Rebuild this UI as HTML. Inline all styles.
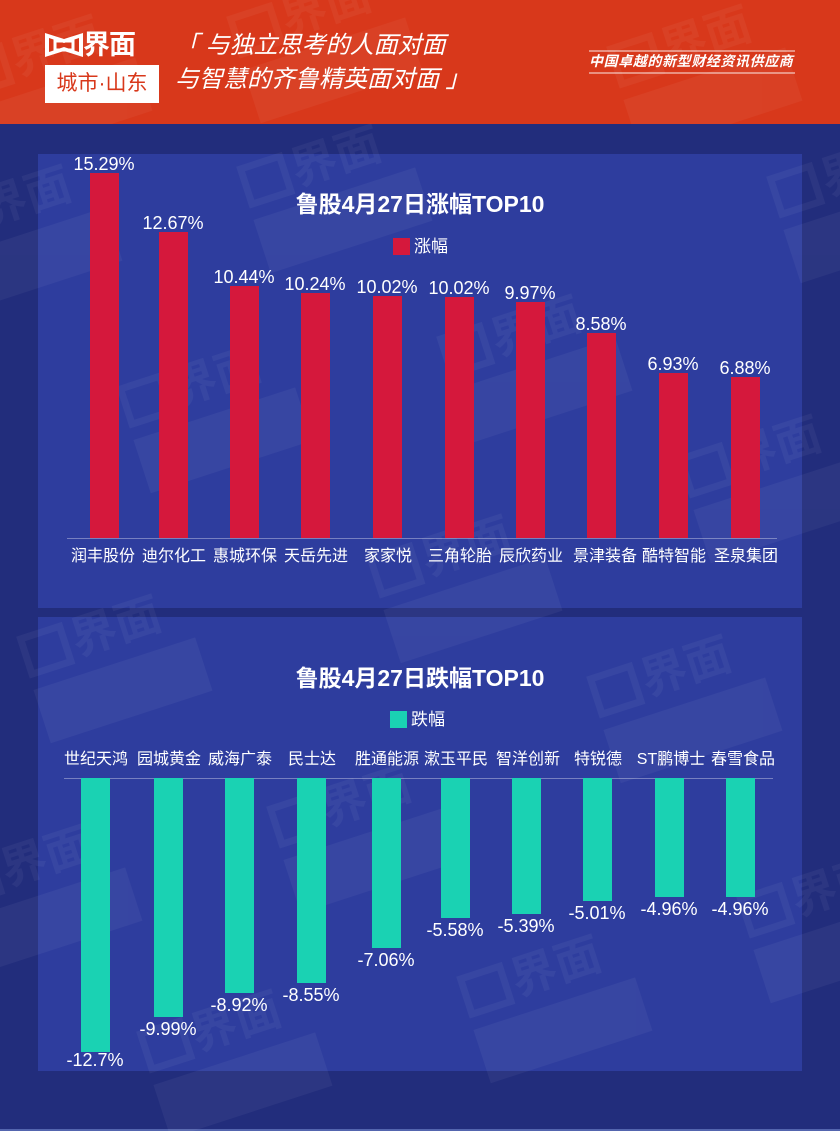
<!DOCTYPE html>
<html><head><meta charset="utf-8">
<style>
*{margin:0;padding:0;box-sizing:border-box}
html,body{width:840px;height:1131px;overflow:hidden}
body{background:#222d7c;font-family:"Liberation Sans","Noto Sans CJK SC",sans-serif;color:#fff}
#wrap{position:relative;width:840px;height:1131px;overflow:hidden;background:#222d7c}
.abs{position:absolute}
#hdr{left:0;top:0;width:840px;height:124px;background:#d8381b;overflow:hidden}
.panel{position:absolute;left:38px;width:764px;height:454px;background:#2e3d9e}
.wm{position:absolute;width:180px;height:130px;opacity:0.045;transform:rotate(-18deg);pointer-events:none}
.wm .t{position:absolute;left:52px;top:0;font-size:46px;font-weight:bold;color:#fff;line-height:54px}
.wm .b{position:absolute;left:0;top:62px;width:170px;height:56px;background:#fff}
.wm .ic{position:absolute;left:0;top:6px;width:48px;height:44px;border:7px solid #fff}
.bar{position:absolute;width:29px}
.r{background:#d5183c}
.g{background:#1ad2b3}
.val{position:absolute;width:90px;text-align:center;font-size:18px;line-height:20px;height:20px;white-space:nowrap}
.cat{position:absolute;width:80px;text-align:center;font-size:16px;line-height:20px;height:20px;white-space:nowrap}
.title{position:absolute;left:38px;width:764px;text-align:center;font-size:23px;font-weight:bold;line-height:28px}
.leg{position:absolute;font-size:17px;line-height:20px}
.leg i{display:inline-block;width:17px;height:17px;vertical-align:-3px;margin-right:4px}
</style></head><body><div id="wrap">

<div id="hdr" class="abs">
  <div class="wm" style="left:240px;top:-20px"><div class="ic"></div><div class="t">界面</div><div class="b"></div></div>
  <div class="wm" style="left:620px;top:10px"><div class="ic"></div><div class="t">界面</div><div class="b"></div></div>
  <div class="wm" style="left:-30px;top:20px"><div class="ic"></div><div class="t">界面</div><div class="b"></div></div>

  <svg class="abs" style="left:45px;top:33px" width="40" height="25" viewBox="0 0 40 25">
    <path d="M0 0 L19 6 L38 0 L38 24 L19 18 L0 24 Z" fill="#fff"/>
    <path d="M4 5 L19 10 L34 5 L34 19 L19 14 L4 19 Z" fill="#d8381b"/>
    <rect x="10" y="8" width="18" height="9" fill="none" stroke="#fff" stroke-width="3"/>
  </svg>
  <div class="abs" style="left:83px;top:29px;font-size:27px;font-weight:bold;line-height:32px;letter-spacing:-1px;white-space:nowrap">界面</div>
  <div class="abs" style="left:45px;top:65px;width:114px;height:38px;background:#fff;color:#d8381b;font-size:21px;line-height:38px;text-align:center;white-space:nowrap">城市·山东</div>

  <div class="abs" style="left:175px;top:30px;font-size:24px;line-height:32px;font-style:italic;white-space:nowrap">「 与独立思考的人面对面</div>
  <div class="abs" style="left:175px;top:64px;font-size:24px;line-height:32px;font-style:italic;white-space:nowrap">与智慧的齐鲁精英面对面 」</div>

  <div class="abs" style="left:589px;top:50px;width:206px;height:2px;background:rgba(255,255,255,0.45)"></div>
  <div class="abs" style="left:589px;top:52px;width:210px;font-size:14px;line-height:18px;font-weight:bold;font-style:italic;letter-spacing:0.6px;white-space:nowrap">中国卓越的新型财经资讯供应商</div>
  <div class="abs" style="left:589px;top:72px;width:206px;height:2px;background:rgba(255,255,255,0.45)"></div>
</div>

<div class="panel" style="top:154px"></div>
<div class="panel" style="top:617px"></div>
<div class="abs" style="left:0;top:1129px;width:840px;height:2px;background:#5465ae"></div>

<div class="wm" style="left:250px;top:130px"><div class="ic"></div><div class="t">界面</div><div class="b"></div></div>
<div class="wm" style="left:-60px;top:170px"><div class="ic"></div><div class="t">界面</div><div class="b"></div></div>
<div class="wm" style="left:450px;top:300px"><div class="ic"></div><div class="t">界面</div><div class="b"></div></div>
<div class="wm" style="left:130px;top:350px"><div class="ic"></div><div class="t">界面</div><div class="b"></div></div>
<div class="wm" style="left:690px;top:420px"><div class="ic"></div><div class="t">界面</div><div class="b"></div></div>
<div class="wm" style="left:780px;top:140px"><div class="ic"></div><div class="t">界面</div><div class="b"></div></div>
<div class="wm" style="left:380px;top:520px"><div class="ic"></div><div class="t">界面</div><div class="b"></div></div>
<div class="wm" style="left:30px;top:600px"><div class="ic"></div><div class="t">界面</div><div class="b"></div></div>
<div class="wm" style="left:600px;top:640px"><div class="ic"></div><div class="t">界面</div><div class="b"></div></div>
<div class="wm" style="left:280px;top:770px"><div class="ic"></div><div class="t">界面</div><div class="b"></div></div>
<div class="wm" style="left:-40px;top:830px"><div class="ic"></div><div class="t">界面</div><div class="b"></div></div>
<div class="wm" style="left:750px;top:860px"><div class="ic"></div><div class="t">界面</div><div class="b"></div></div>
<div class="wm" style="left:470px;top:940px"><div class="ic"></div><div class="t">界面</div><div class="b"></div></div>
<div class="wm" style="left:150px;top:995px"><div class="ic"></div><div class="t">界面</div><div class="b"></div></div>

<!-- TOP CHART -->
<div class="title" style="top:190px">鲁股4月27日涨幅TOP10</div>
<div class="leg" style="left:393px;top:237px"><i style="background:#d5183c"></i>涨幅</div>
<div class="abs" style="left:67px;top:538px;width:710px;height:1px;background:rgba(255,255,255,0.35)"></div>

<div class="bar r" style="left:90px;top:173px;height:365px"></div>
<div class="bar r" style="left:159px;top:232px;height:306px"></div>
<div class="bar r" style="left:230px;top:286px;height:252px"></div>
<div class="bar r" style="left:301px;top:293px;height:245px"></div>
<div class="bar r" style="left:373px;top:296px;height:242px"></div>
<div class="bar r" style="left:445px;top:297px;height:241px"></div>
<div class="bar r" style="left:516px;top:302px;height:236px"></div>
<div class="bar r" style="left:587px;top:333px;height:205px"></div>
<div class="bar r" style="left:659px;top:373px;height:165px"></div>
<div class="bar r" style="left:731px;top:377px;height:161px"></div>

<div class="val" style="left:59px;top:154px">15.29%</div>
<div class="val" style="left:128px;top:213px">12.67%</div>
<div class="val" style="left:199px;top:267px">10.44%</div>
<div class="val" style="left:270px;top:274px">10.24%</div>
<div class="val" style="left:342px;top:277px">10.02%</div>
<div class="val" style="left:414px;top:278px">10.02%</div>
<div class="val" style="left:485px;top:283px">9.97%</div>
<div class="val" style="left:556px;top:314px">8.58%</div>
<div class="val" style="left:628px;top:354px">6.93%</div>
<div class="val" style="left:700px;top:358px">6.88%</div>

<div class="cat" style="left:63px;top:547px">润丰股份</div>
<div class="cat" style="left:134px;top:547px">迪尔化工</div>
<div class="cat" style="left:205px;top:547px">惠城环保</div>
<div class="cat" style="left:276px;top:547px">天岳先进</div>
<div class="cat" style="left:348px;top:547px">家家悦</div>
<div class="cat" style="left:420px;top:547px">三角轮胎</div>
<div class="cat" style="left:491px;top:547px">辰欣药业</div>
<div class="cat" style="left:565px;top:547px">景津装备</div>
<div class="cat" style="left:634px;top:547px">酷特智能</div>
<div class="cat" style="left:706px;top:547px">圣泉集团</div>

<!-- BOTTOM CHART -->
<div class="title" style="top:664px">鲁股4月27日跌幅TOP10</div>
<div class="leg" style="left:390px;top:710px"><i style="background:#1ad2b3"></i>跌幅</div>
<div class="abs" style="left:64px;top:778px;width:709px;height:1px;background:rgba(255,255,255,0.35)"></div>

<div class="bar g" style="left:81px;top:778px;height:274px"></div>
<div class="bar g" style="left:154px;top:778px;height:239px"></div>
<div class="bar g" style="left:225px;top:778px;height:215px"></div>
<div class="bar g" style="left:297px;top:778px;height:205px"></div>
<div class="bar g" style="left:372px;top:778px;height:170px"></div>
<div class="bar g" style="left:441px;top:778px;height:140px"></div>
<div class="bar g" style="left:512px;top:778px;height:136px"></div>
<div class="bar g" style="left:583px;top:778px;height:123px"></div>
<div class="bar g" style="left:655px;top:778px;height:119px"></div>
<div class="bar g" style="left:726px;top:778px;height:119px"></div>

<div class="val" style="left:50px;top:1050px">-12.7%</div>
<div class="val" style="left:123px;top:1019px">-9.99%</div>
<div class="val" style="left:194px;top:995px">-8.92%</div>
<div class="val" style="left:266px;top:985px">-8.55%</div>
<div class="val" style="left:341px;top:950px">-7.06%</div>
<div class="val" style="left:410px;top:920px">-5.58%</div>
<div class="val" style="left:481px;top:916px">-5.39%</div>
<div class="val" style="left:552px;top:903px">-5.01%</div>
<div class="val" style="left:624px;top:899px">-4.96%</div>
<div class="val" style="left:695px;top:899px">-4.96%</div>

<div class="cat" style="left:56px;top:750px">世纪天鸿</div>
<div class="cat" style="left:129px;top:750px">园城黄金</div>
<div class="cat" style="left:200px;top:750px">威海广泰</div>
<div class="cat" style="left:272px;top:750px">民士达</div>
<div class="cat" style="left:347px;top:750px">胜通能源</div>
<div class="cat" style="left:416px;top:750px">漱玉平民</div>
<div class="cat" style="left:488px;top:750px">智洋创新</div>
<div class="cat" style="left:558px;top:750px">特锐德</div>
<div class="cat" style="left:631px;top:750px">ST鹏博士</div>
<div class="cat" style="left:703px;top:750px">春雪食品</div>

</div></body></html>
